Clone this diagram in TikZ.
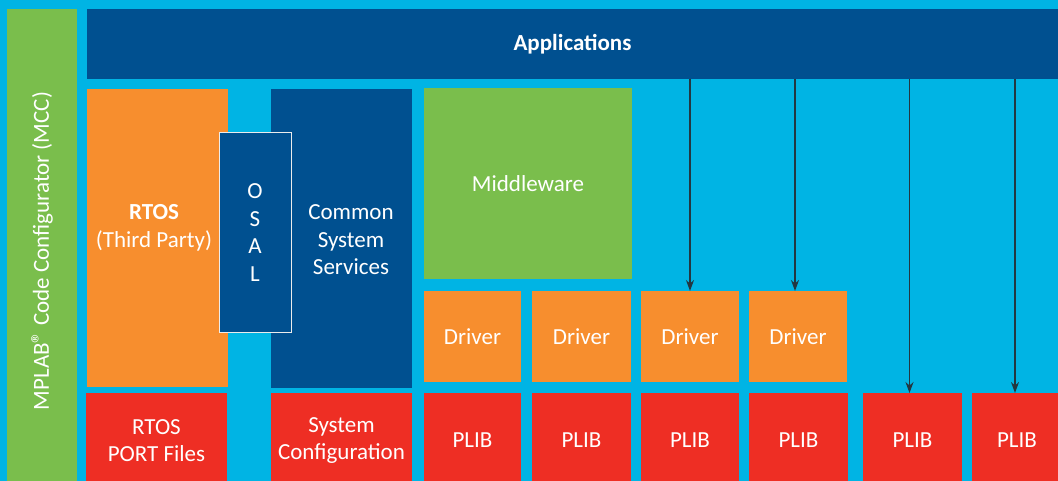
\documentclass[tikz,border=0pt]{standalone}
\usepackage{fontspec}
\setmainfont{Carlito}
\usetikzlibrary{arrows.meta}
\definecolor{mcccyan}{RGB}{0,180,228}
\definecolor{mccblue}{RGB}{0,80,144}
\definecolor{mccgreen}{RGB}{122,190,76}
\definecolor{mccorange}{RGB}{247,142,46}
\definecolor{mccred}{RGB}{238,46,36}
\definecolor{mccarrow}{RGB}{35,55,65}
\begin{document}
\begin{tikzpicture}[
    x			= 1pt,
    y			= -1pt,
    blk/.style		= {anchor=north west, inner sep=0pt, outer sep=0pt, text=white, align=center, font=\fontsize{23}{27.6}\selectfont},
    txt/.style		= {inner sep=0pt, text=white, align=center, font=\fontsize{23}{27.6}\selectfont},
    >={Stealth[length=11pt, width=8pt]}
  ]
% background
\useasboundingbox (0,0) rectangle (1058,481);
\clip (0,0) rectangle (1058,481);
\fill[mcccyan] (0,0) rectangle (1058,481);
% configurator bar
\node[blk, fill=mccgreen, minimum width=70pt, minimum height=472pt] (mcc) at (7,9) {};
\node[txt, rotate=90] (mcctext) at (42,251) {MPLAB\raisebox{1pt}{\fontsize{24}{24}\selectfont ®} Code Configurator (MCC)};
% applications
\node[blk, fill=mccblue, minimum width=971pt, minimum height=70pt, font=\fontsize{23}{27.6}\selectfont\bfseries] (apps) at (87,9) {Applications};
% rtos column
\node[blk, fill=mccorange, minimum width=141pt, minimum height=298pt] (rtos) at (87,89) {};
\node[txt] (rtostext) at (154,228) {\textbf{RTOS}\\(Third Party)};
\node[blk, fill=mccred, minimum width=141pt, minimum height=95pt] (port) at (86,393) {RTOS\\PORT Files};
% system services column
\node[blk, fill=mccblue, minimum width=141pt, minimum height=299pt] (css) at (271,89) {};
\node[txt] (csstext) at (351,240) {Common\\System\\Services};
\node[blk, fill=mccred, minimum width=141pt, minimum height=95pt] (syscfg) at (271,393) {System\\Configuration};
% osal
\node[blk, fill=mccblue, draw=white!85!gray, line width=1pt, minimum width=72pt, minimum height=199pt] (osal) at (219,133) {O\\S\\A\\L};
% middleware
\node[blk, fill=mccgreen, minimum width=208pt, minimum height=191pt] (mw) at (424,88) {Middleware};
% drivers
\node[blk, fill=mccorange, minimum width=97pt, minimum height=91pt] (drv1) at (424,291) {Driver};
\node[blk, fill=mccorange, minimum width=99pt, minimum height=91pt] (drv2) at (532,291) {Driver};
\node[blk, fill=mccorange, minimum width=98pt, minimum height=91pt] (drv3) at (641,291) {Driver};
\node[blk, fill=mccorange, minimum width=98pt, minimum height=91pt] (drv4) at (749,291) {Driver};
% peripheral libraries
\node[blk, fill=mccred, minimum width=97pt, minimum height=95pt] (plib1) at (424,393) {PLIB};
\node[blk, fill=mccred, minimum width=99pt, minimum height=95pt] (plib2) at (532,393) {PLIB};
\node[blk, fill=mccred, minimum width=98pt, minimum height=95pt] (plib3) at (641,393) {PLIB};
\node[blk, fill=mccred, minimum width=99pt, minimum height=95pt] (plib4) at (749,393) {PLIB};
\node[blk, fill=mccred, minimum width=99pt, minimum height=95pt] (plib5) at (863,393) {PLIB};
\node[blk, fill=mccred, minimum width=90pt, minimum height=95pt] (plib6) at (972,393) {PLIB};
% arrows from applications
\draw[->, mccarrow, line width=1.2pt] (drv3.north |- apps.south) -- (drv3.north);
\draw[->, mccarrow, line width=1.2pt] ([xshift=-3pt]drv4.north |- apps.south) -- ([xshift=-3pt]drv4.north);
\draw[->, mccarrow, line width=1.2pt] ([xshift=-3pt]plib5.north |- apps.south) -- ([xshift=-3pt]plib5.north);
\draw[->, mccarrow, line width=1.2pt] ([xshift=-2pt]plib6.north |- apps.south) -- ([xshift=-2pt]plib6.north);
%
\end{tikzpicture}
\end{document}
